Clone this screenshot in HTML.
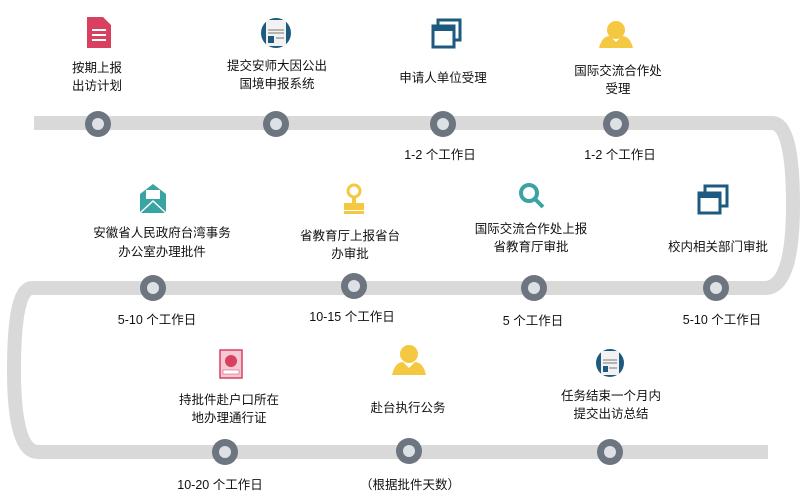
<!DOCTYPE html>
<html><head><meta charset="utf-8"><style>
body{margin:0;background:#fff;}
svg text{font-family:"Liberation Sans","Noto Sans CJK SC",sans-serif;font-size:12.5px;fill:#111;text-anchor:middle;}
</style></head><body>
<svg width="810" height="494" viewBox="0 0 810 494" xmlns="http://www.w3.org/2000/svg">
<path d="M34 123 H772 Q793 123 793 205 Q793 288 765 288 H32 Q14 288 14 370 Q14 452 38 452 H768" fill="none" stroke="#d9d9d9" stroke-width="14"/>
<g fill="#6d7580">
<circle cx="98" cy="124" r="13"/><circle cx="276" cy="124" r="13"/><circle cx="443" cy="124" r="13"/><circle cx="616" cy="124" r="13"/>
<circle cx="153" cy="288" r="13"/><circle cx="354" cy="286" r="13"/><circle cx="534" cy="288" r="13"/><circle cx="716" cy="288" r="13"/>
<circle cx="225" cy="452" r="13"/><circle cx="409" cy="451" r="13"/><circle cx="610" cy="452" r="13"/>
</g>
<g fill="#dde1e6">
<circle cx="98" cy="124" r="6"/><circle cx="276" cy="124" r="6"/><circle cx="443" cy="124" r="6"/><circle cx="616" cy="124" r="6"/>
<circle cx="153" cy="288" r="6"/><circle cx="354" cy="286" r="6"/><circle cx="534" cy="288" r="6"/><circle cx="716" cy="288" r="6"/>
<circle cx="225" cy="452" r="6"/><circle cx="409" cy="451" r="6"/><circle cx="610" cy="452" r="6"/>
</g>
<!-- icons -->
<path d="M87 17 H103 L111 25 V48 H87 Z" fill="#d9405f"/><g stroke="#fff" stroke-width="2"><line x1="92" y1="30" x2="106" y2="30"/><line x1="92" y1="35" x2="106" y2="35"/><line x1="92" y1="40" x2="106" y2="40"/></g>
<circle cx="276" cy="33" r="15" fill="#1c5a80"/><rect x="266" y="20" width="20" height="26" fill="#f2f2f2"/><rect x="268" y="36" width="6" height="7" fill="#1c5a80"/><g stroke="#777" stroke-width="1"><line x1="268" y1="30" x2="284" y2="30"/><line x1="268" y1="33" x2="284" y2="33"/><line x1="276" y1="38" x2="284" y2="38"/></g>
<rect x="438" y="20" width="22" height="20" fill="none" stroke="#1c5a80" stroke-width="3"/><rect x="433" y="26" width="21" height="21" fill="#fff" stroke="#1c5a80" stroke-width="3"/><rect x="433" y="26" width="21" height="5" fill="#1c5a80"/>
<circle cx="616" cy="30" r="9" fill="#f5c842"/><path d="M599 48 Q602 36 610 36 L616 42 L622 36 Q630 36 633 48 Z" fill="#f5c842"/>
<path d="M140 194 L153 184 L166 194 V213 H140 Z" fill="#3aa3a3"/><rect x="146" y="190" width="14" height="9" fill="#fff"/><path d="M140 213 L153 201 L166 213" fill="none" stroke="#fff" stroke-width="1.5"/>
<circle cx="354" cy="191" r="6" fill="none" stroke="#f5c842" stroke-width="3"/><rect x="352" y="197" width="4" height="7" fill="#f5c842"/><rect x="344" y="203" width="20" height="7" fill="#f5c842"/><rect x="344" y="211" width="20" height="3" fill="#f5c842"/>
<circle cx="529" cy="193" r="8" fill="none" stroke="#3aa3a3" stroke-width="4"/><line x1="535" y1="199" x2="543" y2="207" stroke="#3aa3a3" stroke-width="4"/>
<rect x="705" y="186" width="22" height="20" fill="none" stroke="#1c5a80" stroke-width="3"/><rect x="699" y="193" width="21" height="20" fill="#fff" stroke="#1c5a80" stroke-width="3"/><rect x="699" y="193" width="21" height="5" fill="#1c5a80"/>
<rect x="220" y="350" width="22" height="28" fill="#f4c9d4" stroke="#d9405f" stroke-width="1.5"/><circle cx="231" cy="361" r="6" fill="#d9405f"/><rect x="223" y="370" width="16" height="4" fill="#fff" stroke="#d9405f" stroke-width="0.5"/>
<circle cx="409" cy="354" r="9" fill="#f5c842"/><path d="M392 375 Q395 362 403 362 L409 368 L415 362 Q423 362 426 375 Z" fill="#f5c842"/>
<circle cx="610" cy="363" r="14" fill="#1c5a80"/><rect x="601" y="351" width="18" height="24" fill="#f2f2f2"/><rect x="603" y="366" width="5" height="6" fill="#1c5a80"/><g stroke="#777" stroke-width="1"><line x1="603" y1="360" x2="617" y2="360"/><line x1="603" y1="363" x2="617" y2="363"/><line x1="609" y1="368" x2="617" y2="368"/></g>
<!-- labels -->
<text x="97" y="72">按期上报</text><text x="97" y="90">出访计划</text>
<text x="277" y="70">提交安师大因公出</text><text x="277" y="88">国境申报系统</text>
<text x="443" y="82">申请人单位受理</text>
<text x="618" y="75">国际交流合作处</text><text x="618" y="93">受理</text>
<text x="440" y="159">1-2 个工作日</text><text x="620" y="159">1-2 个工作日</text>
<text x="162" y="237">安徽省人民政府台湾事务</text><text x="162" y="256">办公室办理批件</text>
<text x="350" y="240">省教育厅上报省台</text><text x="350" y="258">办审批</text>
<text x="531" y="233">国际交流合作处上报</text><text x="531" y="251">省教育厅审批</text>
<text x="718" y="251">校内相关部门审批</text>
<text x="157" y="324">5-10 个工作日</text><text x="352" y="321">10-15 个工作日</text><text x="533" y="325">5 个工作日</text><text x="722" y="324">5-10 个工作日</text>
<text x="229" y="404">持批件赴户口所在</text><text x="229" y="422">地办理通行证</text>
<text x="408" y="412">赴台执行公务</text>
<text x="611" y="400">任务结束一个月内</text><text x="611" y="418">提交出访总结</text>
<text x="220" y="489">10-20 个工作日</text><text x="410" y="489">（根据批件天数）</text>
</svg>
</body></html>
